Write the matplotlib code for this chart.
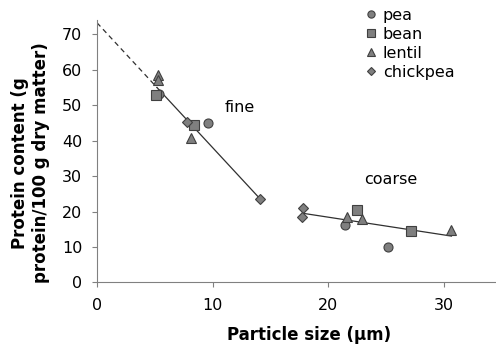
import numpy as np
import matplotlib.pyplot as plt

# particle size (um) and protein content (g / 100 g dry matter)
pea_x = [5.4, 9.6, 21.4, 25.2]
pea_y = [53.0, 45.0, 16.2, 10.1]
bean_x = [5.1, 8.4, 22.45, 27.15]
bean_y = [52.9, 44.3, 20.3, 14.6]
lentil_x = [5.3, 5.3, 8.1, 21.6, 22.95, 30.65]
lentil_y = [58.4, 57.0, 40.7, 18.4, 17.8, 14.8]
chickpea_x = [7.8, 14.1, 17.85, 17.75]
chickpea_y = [45.2, 23.4, 21.1, 18.4]

# trend lines
fine_coef = (-3.52, 73.2)
fine_solid = (5.2, 14.1)
coarse_coef = (-0.50, 28.4)
coarse_range = (17.85, 30.65)

fig = plt.figure(figsize=(4.96, 3.47), dpi=100)
ax = fig.add_axes([0.1956, 0.186, 0.8044, 0.7565])

kw = dict(linestyle="none", markerfacecolor="#7f7f7f", markeredgecolor="#404040",
          markeredgewidth=0.8, zorder=3)
ax.plot(pea_x, pea_y, marker="o", markersize=6.5, label="pea", **kw)
ax.plot(bean_x, bean_y, marker="s", markersize=6.5, label="bean", **kw)
ax.plot(lentil_x, lentil_y, marker="^", markersize=7, label="lentil", **kw)
ax.plot(chickpea_x, chickpea_y, marker="D", markersize=5.5, label="chickpea", **kw)

f = np.poly1d(fine_coef)
xd = np.array([0, fine_solid[0]])
ax.plot(xd, f(xd), color="#303030", lw=0.9, ls=(0, (4, 3)), zorder=2)
xs = np.array(fine_solid)
ax.plot(xs, f(xs), color="#303030", lw=0.9, zorder=2)
c = np.poly1d(coarse_coef)
xc = np.array(coarse_range)
ax.plot(xc, c(xc), color="#303030", lw=0.9, zorder=2)

ax.text(12.3, 49.4, "fine", fontsize=11.5, ha="center", va="center")
ax.text(25.4, 28.9, "coarse", fontsize=11.5, ha="center", va="center")

ax.set_xlim(0, 34.5)
ax.set_ylim(0, 74)
ax.set_xticks([0, 10, 20, 30])
ax.set_yticks(range(0, 71, 10))
ax.tick_params(labelsize=11.5, color="#808080", length=3.5)
ax.tick_params(axis="x", pad=7.5)
ax.tick_params(axis="y", pad=7)
for s in ["top", "right"]:
    ax.spines[s].set_visible(False)
for s in ["left", "bottom"]:
    ax.spines[s].set_color("#808080")

ax.set_xlabel("Particle size (µm)", fontsize=12, fontweight="bold")
ax.xaxis.set_label_coords(0.531, -0.166)
ax.set_ylabel("Protein content (g\nprotein/100 g dry matter)", fontsize=12,
              fontweight="bold")
ax.yaxis.set_label_coords(-0.118, 0.455)

ax.legend(loc="upper left", bbox_to_anchor=(364.6 / 496, 0.978),
          bbox_transform=fig.transFigure, frameon=False,
          fontsize=11.5, borderpad=0, borderaxespad=0, handletextpad=0.35,
          labelspacing=0.25, markerscale=0.8, handlelength=0.8)

fig.savefig("out.png", dpi=100)
